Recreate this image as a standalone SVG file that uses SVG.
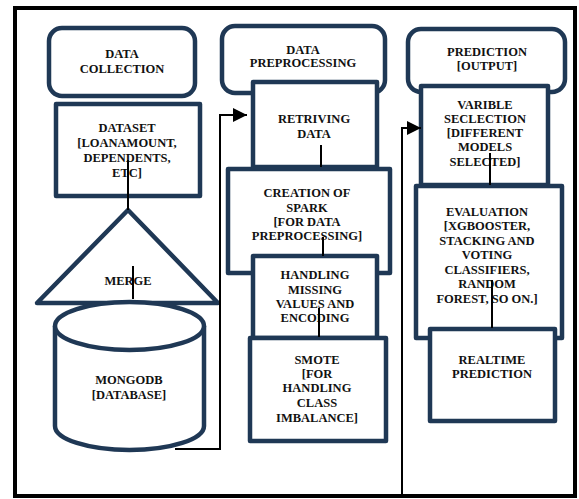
<svg xmlns="http://www.w3.org/2000/svg" width="579" height="499" viewBox="0 0 579 499">
<style>
.shape{fill:#fff;stroke:#1f3855;stroke-width:4.5;stroke-linejoin:round}
.t{font-family:"Liberation Serif","Times New Roman",serif;font-weight:bold;font-size:12.5px;fill:#111;text-anchor:middle}
.c{fill:none;stroke:#000;stroke-width:2}
</style>
<defs>
<marker id="arr" markerUnits="userSpaceOnUse" markerWidth="15" markerHeight="14" refX="14" refY="7" orient="auto">
<path d="M0,0 L14,7 L0,14 z" fill="#000"/>
</marker>
</defs>
<rect x="0" y="0" width="579" height="499" fill="#fff"/>
<rect x="15" y="8" width="560" height="488" fill="#fff" stroke="#000" stroke-width="4"/>

<g id="data-collection">
<rect class="shape" x="49" y="28" width="146" height="68" rx="13"/>
<text class="t" x="122" y="58">DATA</text>
<text class="t" x="122" y="73">COLLECTION</text>
</g>
<g id="dataset">
<rect class="shape" x="56" y="104" width="144" height="92"/>
<text class="t" x="127" y="132">DATASET</text>
<text class="t" x="127" y="147">[LOANAMOUNT,</text>
<text class="t" x="127" y="161.5">DEPENDENTS,</text>
<text class="t" x="127" y="176.5">ETC]</text>
</g>
<g id="merge">
<polygon class="shape" points="128,210 218,303 37,303"/>
<text class="t" x="128" y="285">MERGE</text>
</g>
<g id="mongodb">
<path class="shape" d="M55,326 A74.5,24 0 0 1 204,326 L204,426 A74.5,24 0 0 1 55,426 Z"/>
<path class="shape" d="M55,326 A74.5,24 0 0 0 204,326" fill="none"/>
<text class="t" x="129" y="384">MONGODB</text>
<text class="t" x="129" y="399">[DATABASE]</text>
</g>

<g id="data-preprocessing">
<rect class="shape" x="222" y="26" width="163" height="67" rx="13"/>
<text class="t" x="303" y="53.5">DATA</text>
<text class="t" x="303" y="67">PREPROCESSING</text>
</g>
<g id="retriving-data">
<rect class="shape" x="253" y="82" width="124" height="85"/>
<text class="t" x="314" y="122.5">RETRIVING</text>
<text class="t" x="314" y="137.5">DATA</text>
</g>
<g id="creation-of-spark">
<rect class="shape" x="228" y="169" width="162" height="104"/>
<text class="t" x="307" y="196.5">CREATION OF</text>
<text class="t" x="307" y="211.5">SPARK</text>
<text class="t" x="307" y="225.5">[FOR DATA</text>
<text class="t" x="307" y="240">PREPROCESSING]</text>
</g>
<g id="handling-missing">
<rect class="shape" x="253" y="256" width="124" height="82"/>
<text class="t" x="315" y="279">HANDLING</text>
<text class="t" x="315" y="293.5">MISSING</text>
<text class="t" x="315" y="307.5">VALUES AND</text>
<text class="t" x="315" y="321.5">ENCODING</text>
</g>
<g id="smote">
<rect class="shape" x="250" y="338" width="136" height="103"/>
<text class="t" x="317" y="363.5">SMOTE</text>
<text class="t" x="317" y="377.5">[FOR</text>
<text class="t" x="317" y="391.5">HANDLING</text>
<text class="t" x="317" y="406.5">CLASS</text>
<text class="t" x="317" y="421.5">IMBALANCE]</text>
</g>

<g id="prediction-output">
<rect class="shape" x="408" y="29" width="157" height="63" rx="13"/>
<text class="t" x="487" y="55.5">PREDICTION</text>
<text class="t" x="487" y="70">[OUTPUT]</text>
</g>
<g id="variable-selection">
<rect class="shape" x="421" y="86" width="127" height="99"/>
<text class="t" x="485" y="108.5">VARIBLE</text>
<text class="t" x="485" y="122.5">SECLECTION</text>
<text class="t" x="485" y="136.5">[DIFFERENT</text>
<text class="t" x="485" y="150.5">MODELS</text>
<text class="t" x="485" y="165.5">SELECTED]</text>
</g>
<g id="evaluation">
<rect class="shape" x="416" y="186" width="146" height="152"/>
<text class="t" x="487" y="215.5">EVALUATION</text>
<text class="t" x="487" y="230">[XGBOOSTER,</text>
<text class="t" x="487" y="245">STACKING AND</text>
<text class="t" x="487" y="258.5">VOTING</text>
<text class="t" x="487" y="273.5">CLASSIFIERS,</text>
<text class="t" x="487" y="287.5">RANDOM</text>
<text class="t" x="487" y="302.5">FOREST, SO ON.]</text>
</g>
<g id="realtime-prediction">
<rect class="shape" x="430" y="329" width="125" height="92"/>
<text class="t" x="492" y="364">REALTIME</text>
<text class="t" x="492" y="378">PREDICTION</text>
</g>

<g id="connectors">
<line class="c" x1="128" y1="160" x2="128" y2="210"/>
<line class="c" x1="133" y1="266" x2="133" y2="299"/>
<polyline class="c" points="175,449 220,449 220,115 247,115" marker-end="url(#arr)"/>
<line class="c" x1="321" y1="145" x2="321" y2="167"/>
<line class="c" x1="323" y1="237" x2="323" y2="256"/>
<line class="c" x1="319" y1="308" x2="319" y2="337"/>
<polyline class="c" points="402,496 402,128 421,128" marker-end="url(#arr)"/>
<line class="c" x1="490" y1="153" x2="490" y2="185"/>
<line class="c" x1="492" y1="280" x2="492" y2="328"/>
</g>
</svg>
